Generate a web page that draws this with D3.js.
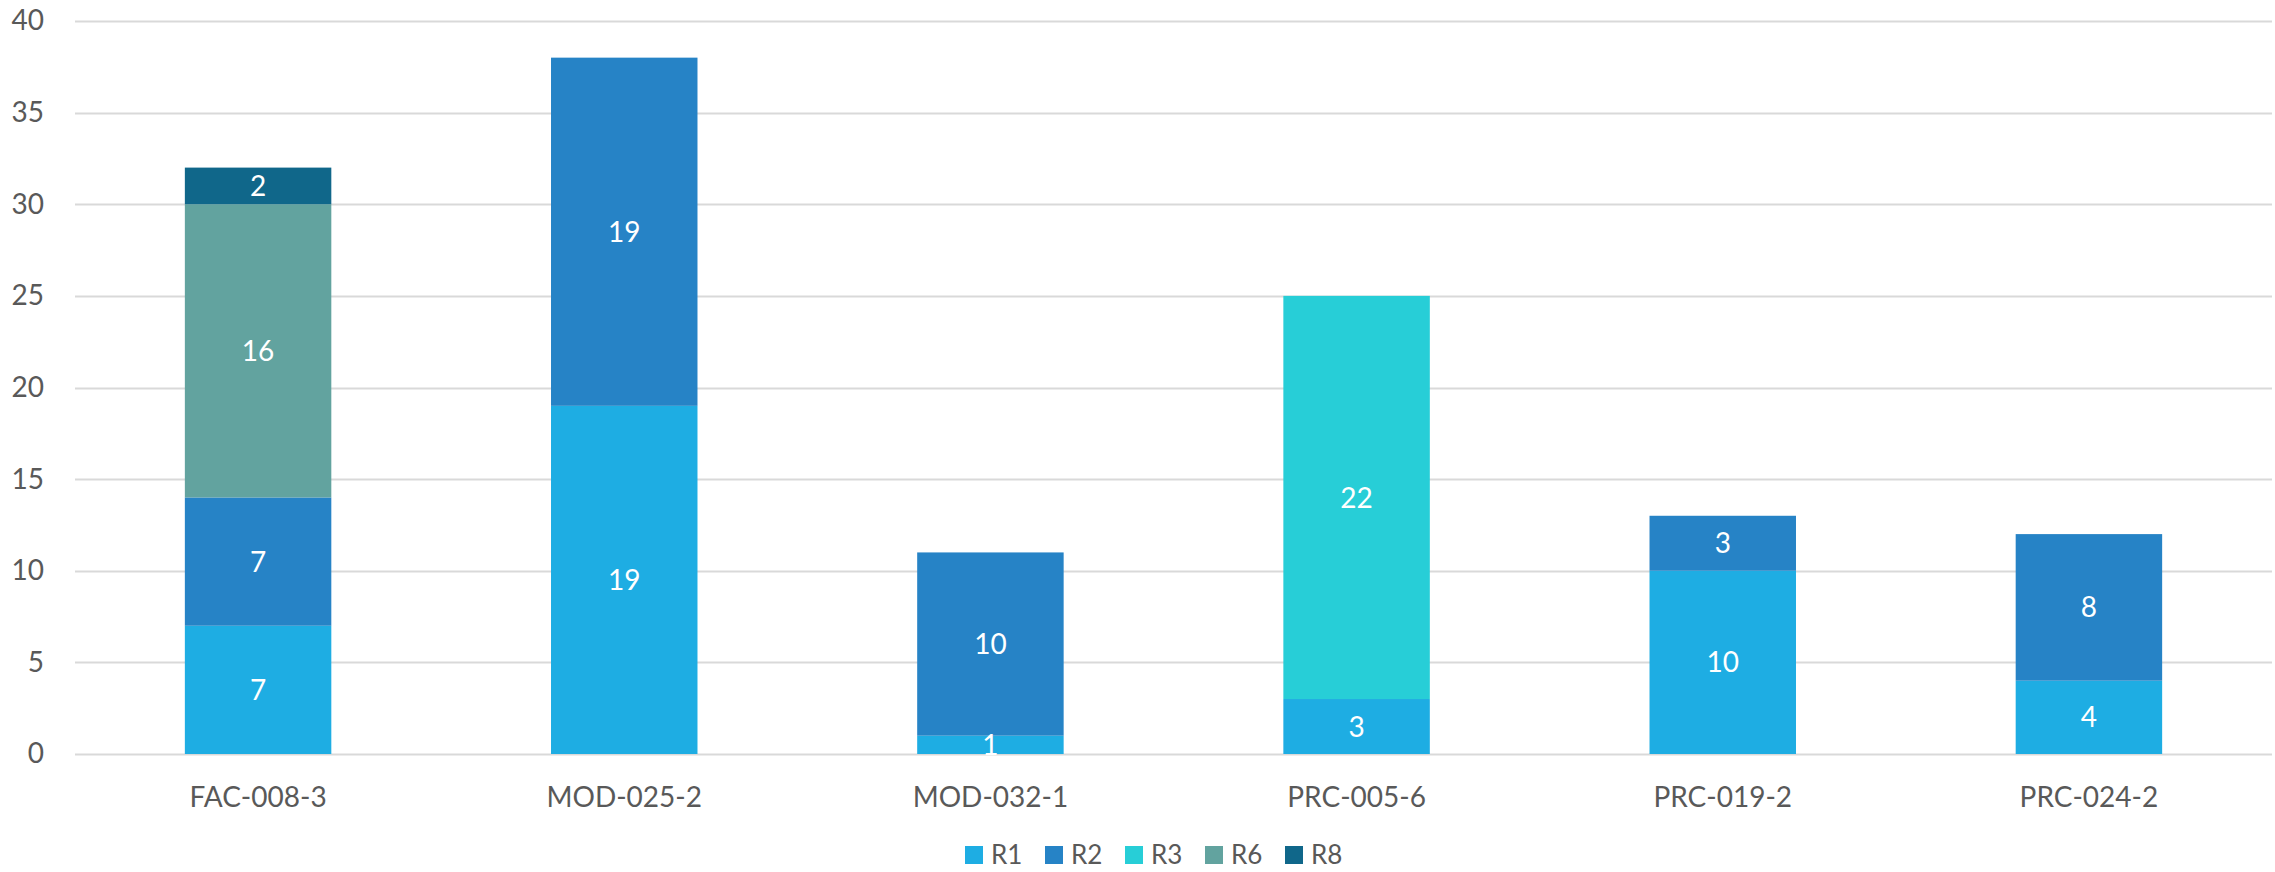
<!DOCTYPE html>
<html>
<head>
<meta charset="utf-8">
<script src="https://cdn.jsdelivr.net/npm/d3@7"></script>
<style>
  html, body { margin: 0; padding: 0; background: #fff; }
  svg { display: block; }
  text { font-family: Lato, "Open Sans", sans-serif; }
</style>
</head>
<body>
<svg id="chart" width="2275" height="872"></svg>
<script>
// Standards and revision counts per requirement group
const categories = ["FAC-008-3", "MOD-025-2", "MOD-032-1", "PRC-005-6", "PRC-019-2", "PRC-024-2"];
const seriesNames = ["R1", "R2", "R3", "R6", "R8"];
const r1 = [7, 19, 1, 3, 10, 4];
const r2 = [7, 19, 10, 0, 3, 8];
const r3 = [0, 0, 0, 22, 0, 0];
const r6 = [16, 0, 0, 0, 0, 0];
const r8 = [2, 0, 0, 0, 0, 0];
const yTicks = [0, 5, 10, 15, 20, 25, 30, 35, 40];

const seriesValues = { R1: r1, R2: r2, R3: r3, R6: r6, R8: r8 };
const colors = { R1: "#1EADE3", R2: "#2683C6", R3: "#27CED7", R6: "#62A39F", R8: "#10678A" };

const rows = categories.map((c, i) => {
  const row = { category: c };
  seriesNames.forEach(s => { row[s] = seriesValues[s][i]; });
  return row;
});

const svg = d3.select("#chart");
const margin = { left: 75, right: 3, top: 21, bottom: 118 };
const width = 2275, height = 872;

const x = d3.scaleBand()
  .domain(categories)
  .range([margin.left, width - margin.right])
  .paddingInner(0.6)
  .paddingOuter(0.3);

const y = d3.scaleLinear()
  .domain([0, 40])
  .range([height - margin.bottom, margin.top]);

// gridlines
svg.append("g")
  .selectAll("line")
  .data(yTicks)
  .join("line")
  .attr("x1", margin.left)
  .attr("x2", width - margin.right)
  .attr("y1", d => Math.round(y(d)) + 0.5)
  .attr("y2", d => Math.round(y(d)) + 0.5)
  .attr("stroke", "#D9D9D9")
  .attr("stroke-width", 2);

// y axis labels
const yAxis = d3.axisLeft(y).tickValues(yTicks).tickSize(0).tickPadding(0);
svg.append("g")
  .attr("transform", `translate(44,0)`)
  .call(yAxis)
  .call(g => g.select(".domain").remove())
  .call(g => g.selectAll("text")
    .attr("fill", "#595959")
    .style("font-size", "28px")
    .style("font-family", "Lato, 'Open Sans', sans-serif"));

// stacked bars
const stack = d3.stack().keys(seriesNames);
const stacked = stack(rows);

const layers = svg.append("g")
  .selectAll("g")
  .data(stacked)
  .join("g")
  .attr("fill", d => colors[d.key]);

layers.selectAll("rect")
  .data(d => d.map(v => ({ key: d.key, v })))
  .join("rect")
  .attr("x", d => x(d.v.data.category))
  .attr("width", x.bandwidth())
  .attr("y", d => y(d.v[1]))
  .attr("height", d => y(d.v[0]) - y(d.v[1]));

// value labels inside segments
const labels = [];
stacked.forEach(layer => {
  layer.forEach(v => {
    const val = v.data[layer.key];
    if (val > 0) labels.push({ cat: v.data.category, val, mid: (v[0] + v[1]) / 2 });
  });
});

svg.append("g")
  .selectAll("text")
  .data(labels)
  .join("text")
  .attr("x", d => x(d.cat) + x.bandwidth() / 2)
  .attr("y", d => y(d.mid))
  .attr("dy", "0.36em")
  .attr("text-anchor", "middle")
  .attr("fill", "#fff")
  .style("font-size", "28px")
  .text(d => d.val);

// x axis labels
const xAxis = d3.axisBottom(x).tickSize(0).tickPadding(0);
svg.append("g")
  .attr("transform", `translate(0,${y(0) + 33})`)
  .call(xAxis)
  .call(g => g.select(".domain").remove())
  .call(g => g.selectAll("text")
    .attr("fill", "#595959")
    .style("font-size", "28px")
    .style("font-family", "Lato, 'Open Sans', sans-serif"));

// legend
const legendX0 = 965, legendStep = 80, legendY = 846, sw = 18;
const legend = svg.append("g")
  .selectAll("g")
  .data(seriesNames)
  .join("g")
  .attr("transform", (d, i) => `translate(${legendX0 + i * legendStep},${legendY})`);

legend.append("rect")
  .attr("width", sw)
  .attr("height", sw)
  .attr("fill", d => colors[d]);

legend.append("text")
  .attr("x", 26)
  .attr("y", sw)
  .attr("fill", "#595959")
  .style("font-size", "26px")
  .text(d => d);
</script>
</body>
</html>
